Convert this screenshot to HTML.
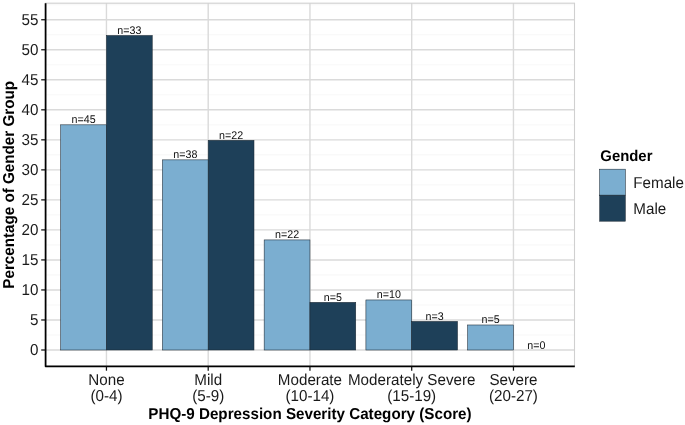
<!DOCTYPE html>
<html><head><meta charset="utf-8"><style>
html,body{margin:0;padding:0;background:#fff;width:685px;height:425px;overflow:hidden}
svg{display:block;filter:blur(0.4px);text-rendering:geometricPrecision;font-family:"Liberation Sans",sans-serif}
</style></head><body>
<svg width="685" height="425" viewBox="0 0 685 425">
<rect width="685" height="425" fill="#fff"/>
<line x1="45.4" x2="574.5" y1="334.99" y2="334.99" stroke="#F0F0F0" stroke-width="0.55"/>
<line x1="45.4" x2="574.5" y1="304.97" y2="304.97" stroke="#F0F0F0" stroke-width="0.55"/>
<line x1="45.4" x2="574.5" y1="274.94" y2="274.94" stroke="#F0F0F0" stroke-width="0.55"/>
<line x1="45.4" x2="574.5" y1="244.92" y2="244.92" stroke="#F0F0F0" stroke-width="0.55"/>
<line x1="45.4" x2="574.5" y1="214.90" y2="214.90" stroke="#F0F0F0" stroke-width="0.55"/>
<line x1="45.4" x2="574.5" y1="184.88" y2="184.88" stroke="#F0F0F0" stroke-width="0.55"/>
<line x1="45.4" x2="574.5" y1="154.85" y2="154.85" stroke="#F0F0F0" stroke-width="0.55"/>
<line x1="45.4" x2="574.5" y1="124.83" y2="124.83" stroke="#F0F0F0" stroke-width="0.55"/>
<line x1="45.4" x2="574.5" y1="94.81" y2="94.81" stroke="#F0F0F0" stroke-width="0.55"/>
<line x1="45.4" x2="574.5" y1="64.79" y2="64.79" stroke="#F0F0F0" stroke-width="0.55"/>
<line x1="45.4" x2="574.5" y1="34.76" y2="34.76" stroke="#F0F0F0" stroke-width="0.55"/>
<line x1="45.4" x2="574.5" y1="4.74" y2="4.74" stroke="#F0F0F0" stroke-width="0.55"/>
<line x1="45.4" x2="574.5" y1="350.00" y2="350.00" stroke="#DADADA" stroke-width="1.4"/>
<line x1="45.4" x2="574.5" y1="319.98" y2="319.98" stroke="#DADADA" stroke-width="1.4"/>
<line x1="45.4" x2="574.5" y1="289.95" y2="289.95" stroke="#DADADA" stroke-width="1.4"/>
<line x1="45.4" x2="574.5" y1="259.93" y2="259.93" stroke="#DADADA" stroke-width="1.4"/>
<line x1="45.4" x2="574.5" y1="229.91" y2="229.91" stroke="#DADADA" stroke-width="1.4"/>
<line x1="45.4" x2="574.5" y1="199.89" y2="199.89" stroke="#DADADA" stroke-width="1.4"/>
<line x1="45.4" x2="574.5" y1="169.87" y2="169.87" stroke="#DADADA" stroke-width="1.4"/>
<line x1="45.4" x2="574.5" y1="139.84" y2="139.84" stroke="#DADADA" stroke-width="1.4"/>
<line x1="45.4" x2="574.5" y1="109.82" y2="109.82" stroke="#DADADA" stroke-width="1.4"/>
<line x1="45.4" x2="574.5" y1="79.80" y2="79.80" stroke="#DADADA" stroke-width="1.4"/>
<line x1="45.4" x2="574.5" y1="49.77" y2="49.77" stroke="#DADADA" stroke-width="1.4"/>
<line x1="45.4" x2="574.5" y1="19.75" y2="19.75" stroke="#DADADA" stroke-width="1.4"/>
<line x1="106.45" x2="106.45" y1="3.2" y2="366.5" stroke="#DADADA" stroke-width="1.4"/>
<line x1="208.20" x2="208.20" y1="3.2" y2="366.5" stroke="#DADADA" stroke-width="1.4"/>
<line x1="309.95" x2="309.95" y1="3.2" y2="366.5" stroke="#DADADA" stroke-width="1.4"/>
<line x1="411.70" x2="411.70" y1="3.2" y2="366.5" stroke="#DADADA" stroke-width="1.4"/>
<line x1="513.45" x2="513.45" y1="3.2" y2="366.5" stroke="#DADADA" stroke-width="1.4"/>
<rect x="60.66" y="124.83" width="45.79" height="225.17" fill="#7BAED0" stroke="#1c2833" stroke-width="0.55"/>
<rect x="106.45" y="35.48" width="45.79" height="314.52" fill="#1E4059" stroke="#1c2833" stroke-width="0.55"/>
<rect x="162.41" y="159.86" width="45.79" height="190.14" fill="#7BAED0" stroke="#1c2833" stroke-width="0.55"/>
<rect x="208.20" y="140.32" width="45.79" height="209.68" fill="#1E4059" stroke="#1c2833" stroke-width="0.55"/>
<rect x="264.16" y="239.92" width="45.79" height="110.08" fill="#7BAED0" stroke="#1c2833" stroke-width="0.55"/>
<rect x="309.95" y="302.35" width="45.79" height="47.65" fill="#1E4059" stroke="#1c2833" stroke-width="0.55"/>
<rect x="365.91" y="299.96" width="45.79" height="50.04" fill="#7BAED0" stroke="#1c2833" stroke-width="0.55"/>
<rect x="411.70" y="321.41" width="45.79" height="28.59" fill="#1E4059" stroke="#1c2833" stroke-width="0.55"/>
<rect x="467.66" y="324.98" width="45.79" height="25.02" fill="#7BAED0" stroke="#1c2833" stroke-width="0.55"/>
<rect x="513.45" y="350.00" width="45.79" height="0.00" fill="#1E4059" stroke="#1c2833" stroke-width="0.55"/>
<text transform="translate(83.56,123.33) scale(1,1.04)" font-size="10.7" text-anchor="middle" fill="#111">n=45</text>
<text transform="translate(129.34,33.98) scale(1,1.04)" font-size="10.7" text-anchor="middle" fill="#111">n=33</text>
<text transform="translate(185.31,158.36) scale(1,1.04)" font-size="10.7" text-anchor="middle" fill="#111">n=38</text>
<text transform="translate(231.09,138.82) scale(1,1.04)" font-size="10.7" text-anchor="middle" fill="#111">n=22</text>
<text transform="translate(287.06,238.42) scale(1,1.04)" font-size="10.7" text-anchor="middle" fill="#111">n=22</text>
<text transform="translate(332.84,300.85) scale(1,1.04)" font-size="10.7" text-anchor="middle" fill="#111">n=5</text>
<text transform="translate(388.81,298.46) scale(1,1.04)" font-size="10.7" text-anchor="middle" fill="#111">n=10</text>
<text transform="translate(434.59,319.91) scale(1,1.04)" font-size="10.7" text-anchor="middle" fill="#111">n=3</text>
<text transform="translate(490.56,323.48) scale(1,1.04)" font-size="10.7" text-anchor="middle" fill="#111">n=5</text>
<text transform="translate(536.34,348.50) scale(1,1.04)" font-size="10.7" text-anchor="middle" fill="#111">n=0</text>
<rect x="45.4" y="3.2" width="529.10" height="363.30" fill="none" stroke="#D0D0D0" stroke-width="1.1"/>
<path d="M45.6,3.2 V366.3 H574.8" fill="none" stroke="#000" stroke-width="1.75" stroke-linejoin="round"/>
<line x1="41.199999999999996" x2="45.4" y1="350.00" y2="350.00" stroke="#111" stroke-width="1.25"/>
<text transform="translate(38.40,355.15) scale(1,1.04)" font-size="15.2" text-anchor="end" fill="#1a1a1a">0</text>
<line x1="41.199999999999996" x2="45.4" y1="319.98" y2="319.98" stroke="#111" stroke-width="1.25"/>
<text transform="translate(38.40,325.13) scale(1,1.04)" font-size="15.2" text-anchor="end" fill="#1a1a1a">5</text>
<line x1="41.199999999999996" x2="45.4" y1="289.95" y2="289.95" stroke="#111" stroke-width="1.25"/>
<text transform="translate(38.40,295.10) scale(1,1.04)" font-size="15.2" text-anchor="end" fill="#1a1a1a">10</text>
<line x1="41.199999999999996" x2="45.4" y1="259.93" y2="259.93" stroke="#111" stroke-width="1.25"/>
<text transform="translate(38.40,265.08) scale(1,1.04)" font-size="15.2" text-anchor="end" fill="#1a1a1a">15</text>
<line x1="41.199999999999996" x2="45.4" y1="229.91" y2="229.91" stroke="#111" stroke-width="1.25"/>
<text transform="translate(38.40,235.06) scale(1,1.04)" font-size="15.2" text-anchor="end" fill="#1a1a1a">20</text>
<line x1="41.199999999999996" x2="45.4" y1="199.89" y2="199.89" stroke="#111" stroke-width="1.25"/>
<text transform="translate(38.40,205.04) scale(1,1.04)" font-size="15.2" text-anchor="end" fill="#1a1a1a">25</text>
<line x1="41.199999999999996" x2="45.4" y1="169.87" y2="169.87" stroke="#111" stroke-width="1.25"/>
<text transform="translate(38.40,175.02) scale(1,1.04)" font-size="15.2" text-anchor="end" fill="#1a1a1a">30</text>
<line x1="41.199999999999996" x2="45.4" y1="139.84" y2="139.84" stroke="#111" stroke-width="1.25"/>
<text transform="translate(38.40,144.99) scale(1,1.04)" font-size="15.2" text-anchor="end" fill="#1a1a1a">35</text>
<line x1="41.199999999999996" x2="45.4" y1="109.82" y2="109.82" stroke="#111" stroke-width="1.25"/>
<text transform="translate(38.40,114.97) scale(1,1.04)" font-size="15.2" text-anchor="end" fill="#1a1a1a">40</text>
<line x1="41.199999999999996" x2="45.4" y1="79.80" y2="79.80" stroke="#111" stroke-width="1.25"/>
<text transform="translate(38.40,84.95) scale(1,1.04)" font-size="15.2" text-anchor="end" fill="#1a1a1a">45</text>
<line x1="41.199999999999996" x2="45.4" y1="49.77" y2="49.77" stroke="#111" stroke-width="1.25"/>
<text transform="translate(38.40,54.92) scale(1,1.04)" font-size="15.2" text-anchor="end" fill="#1a1a1a">50</text>
<line x1="41.199999999999996" x2="45.4" y1="19.75" y2="19.75" stroke="#111" stroke-width="1.25"/>
<text transform="translate(38.40,24.90) scale(1,1.04)" font-size="15.2" text-anchor="end" fill="#1a1a1a">55</text>
<line x1="106.45" x2="106.45" y1="366.5" y2="370.7" stroke="#111" stroke-width="1.25"/>
<text transform="translate(106.45,384.70) scale(1,1.04)" font-size="15.2" text-anchor="middle" fill="#1a1a1a">None</text>
<text transform="translate(106.45,401.00) scale(1,1.04)" font-size="15.2" text-anchor="middle" fill="#1a1a1a">(0-4)</text>
<line x1="208.20" x2="208.20" y1="366.5" y2="370.7" stroke="#111" stroke-width="1.25"/>
<text transform="translate(208.20,384.70) scale(1,1.04)" font-size="15.2" text-anchor="middle" fill="#1a1a1a">Mild</text>
<text transform="translate(208.20,401.00) scale(1,1.04)" font-size="15.2" text-anchor="middle" fill="#1a1a1a">(5-9)</text>
<line x1="309.95" x2="309.95" y1="366.5" y2="370.7" stroke="#111" stroke-width="1.25"/>
<text transform="translate(309.95,384.70) scale(1,1.04)" font-size="15.2" text-anchor="middle" fill="#1a1a1a">Moderate</text>
<text transform="translate(309.95,401.00) scale(1,1.04)" font-size="15.2" text-anchor="middle" fill="#1a1a1a">(10-14)</text>
<line x1="411.70" x2="411.70" y1="366.5" y2="370.7" stroke="#111" stroke-width="1.25"/>
<text transform="translate(411.70,384.70) scale(1,1.04)" font-size="15.2" text-anchor="middle" fill="#1a1a1a">Moderately Severe</text>
<text transform="translate(411.70,401.00) scale(1,1.04)" font-size="15.2" text-anchor="middle" fill="#1a1a1a">(15-19)</text>
<line x1="513.45" x2="513.45" y1="366.5" y2="370.7" stroke="#111" stroke-width="1.25"/>
<text transform="translate(513.45,384.70) scale(1,1.04)" font-size="15.2" text-anchor="middle" fill="#1a1a1a">Severe</text>
<text transform="translate(513.45,401.00) scale(1,1.04)" font-size="15.2" text-anchor="middle" fill="#1a1a1a">(20-27)</text>
<text transform="translate(309.95,418.60) scale(1,1.04)" font-size="15.2" text-anchor="middle" font-weight="bold" fill="#000">PHQ-9 Depression Severity Category (Score)</text>
<text transform="translate(13.60,184.85) rotate(-90) scale(1,1.04)" font-size="15.2" text-anchor="middle" font-weight="bold" fill="#000">Percentage of Gender Group</text>
<text transform="translate(600.30,160.70) scale(1,1.04)" font-size="14.9" text-anchor="start" font-weight="bold" fill="#000">Gender</text>
<rect x="599.7" y="169.2" width="25.6" height="26" fill="#7BAED0" stroke="#1c2833" stroke-width="0.55"/>
<rect x="599.7" y="195.2" width="25.6" height="26" fill="#1E4059" stroke="#1c2833" stroke-width="0.55"/>
<text transform="translate(633.30,187.80) scale(1,1.04)" font-size="15.2" text-anchor="start" fill="#1a1a1a">Female</text>
<text transform="translate(633.30,213.50) scale(1,1.04)" font-size="15.2" text-anchor="start" fill="#1a1a1a">Male</text>
</svg>
</body></html>
